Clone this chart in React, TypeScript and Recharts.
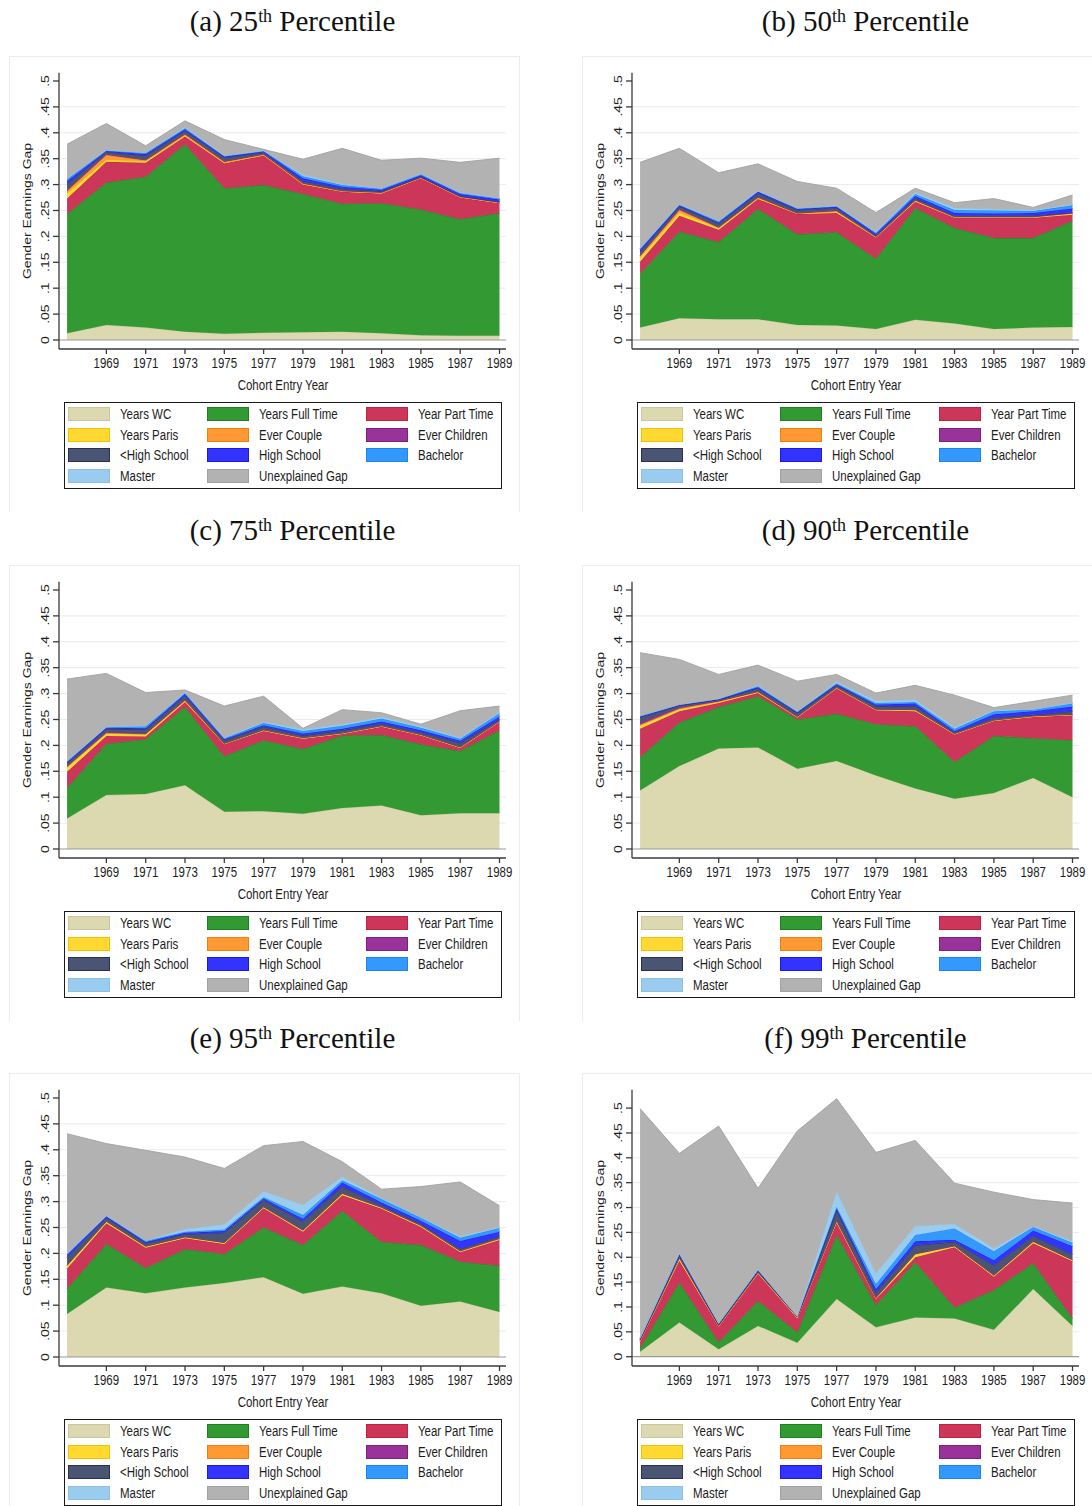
import React from 'react'
import { AreaChart, Area, XAxis, YAxis, CartesianGrid, ReferenceLine } from 'recharts'

const years = [1967, 1969, 1971, 1973, 1975, 1977, 1979, 1981, 1983, 1985, 1987, 1989]
const xTicks = [1969, 1971, 1973, 1975, 1977, 1979, 1981, 1983, 1985, 1987, 1989]
const yTicks = [0, 0.05, 0.1, 0.15, 0.2, 0.25, 0.3, 0.35, 0.4, 0.45, 0.5]
const yTickLabels = ['0', '.05', '.1', '.15', '.2', '.25', '.3', '.35', '.4', '.45', '.5']
const gridValues = [0.05, 0.1, 0.15, 0.2, 0.25, 0.3, 0.35, 0.4, 0.45]

const seriesNames = [
  'Years WC', 'Years Full Time', 'Year Part Time',
  'Years Paris', 'Ever Couple', 'Ever Children',
  '<High School', 'High School', 'Bachelor',
  'Master', 'Unexplained Gap',
]
const fills = ['#DCD9B0', '#339933', '#CC3759', '#FFD932', '#FF9933', '#993399', '#4A5574', '#3333FF', '#3399FF', '#99CCEE', '#B2B2B2']
const strokes = ['#CCC69C', '#1E801E', '#C42040', '#F2C200', '#F07F10', '#7D1F7D', '#27314F', '#1A1AE0', '#1A85F0', '#8CC0E6', '#A2A2A2']

// (a) 25th percentile
const wc25 = [0.013, 0.029, 0.024, 0.016, 0.012, 0.014, 0.015, 0.016, 0.013, 0.009, 0.008, 0.008]
const ft25 = [0.230, 0.275, 0.291, 0.362, 0.281, 0.285, 0.267, 0.247, 0.251, 0.243, 0.225, 0.237]
const pt25 = [0.030, 0.040, 0.027, 0.015, 0.048, 0.057, 0.018, 0.023, 0.019, 0.060, 0.042, 0.019]
const paris25 = [0.010, 0.004, 0.003, 0.002, 0.001, 0.001, 0.001, 0.001, 0.001, 0.001, 0.001, 0.001]
const couple25 = [0.005, 0.009, 0.002, 0.002, 0.002, 0.001, 0.001, 0.001, 0.001, 0.001, 0.001, 0.001]
const kids25 = [0.001, 0.002, 0.001, 0.001, 0.001, 0.001, 0.001, 0, 0, 0, 0, 0]
const lhs25 = [0.012, 0.004, 0.008, 0.006, 0.007, 0.003, 0.004, 0.004, 0.002, 0.001, 0.001, 0.001]
const hs25 = [0.006, 0.002, 0.003, 0.003, 0.002, 0.002, 0.005, 0.004, 0.003, 0.003, 0.004, 0.004]
const bach25 = [0.004, 0.001, 0.002, 0.002, 0.001, 0.001, 0.004, 0.003, 0.002, 0.002, 0.002, 0.002]
const mast25 = [0.001, 0.001, 0.001, 0.002, 0.001, 0.001, 0.003, 0.002, 0.001, 0.001, 0.001, 0.001]
const unexp25 = [0.066, 0.051, 0.013, 0.012, 0.031, 0.002, 0.030, 0.069, 0.054, 0.030, 0.058, 0.077]

// (b) 50th percentile
const wc50 = [0.024, 0.042, 0.040, 0.040, 0.029, 0.028, 0.021, 0.039, 0.032, 0.021, 0.024, 0.025]
const ft50 = [0.104, 0.167, 0.149, 0.213, 0.175, 0.180, 0.136, 0.216, 0.184, 0.176, 0.173, 0.205]
const pt50 = [0.023, 0.031, 0.024, 0.019, 0.039, 0.037, 0.041, 0.012, 0.020, 0.039, 0.039, 0.012]
const paris50 = [0.008, 0.006, 0.003, 0.002, 0.001, 0.002, 0.001, 0.002, 0.001, 0.001, 0.001, 0.002]
const couple50 = [0.003, 0.005, 0.001, 0.001, 0.001, 0.002, 0.001, 0.001, 0.001, 0.001, 0.001, 0.001]
const kids50 = [0.001, 0.002, 0.001, 0.001, 0, 0.001, 0, 0, 0, 0, 0, 0]
const lhs50 = [0.007, 0.005, 0.007, 0.007, 0.006, 0.005, 0.002, 0.004, 0.002, 0.002, 0.002, 0.001]
const hs50 = [0.004, 0.002, 0.002, 0.003, 0.002, 0.002, 0.003, 0.004, 0.005, 0.004, 0.005, 0.008]
const bach50 = [0.002, 0.001, 0.002, 0.001, 0.001, 0.001, 0.002, 0.004, 0.006, 0.006, 0.004, 0.006]
const mast50 = [0.001, 0.001, 0.001, 0.001, 0.001, 0.001, 0.002, 0.003, 0.004, 0.003, 0.002, 0.002]
const unexp50 = [0.166, 0.108, 0.093, 0.052, 0.051, 0.034, 0.037, 0.008, 0.010, 0.020, 0.005, 0.018]

// (c) 75th percentile
const wc75 = [0.059, 0.104, 0.106, 0.123, 0.072, 0.073, 0.068, 0.079, 0.084, 0.065, 0.069, 0.069]
const ft75 = [0.059, 0.099, 0.106, 0.151, 0.107, 0.137, 0.125, 0.140, 0.136, 0.137, 0.120, 0.160]
const pt75 = [0.031, 0.015, 0.005, 0.010, 0.023, 0.018, 0.020, 0.003, 0.016, 0.017, 0.006, 0.016]
const paris75 = [0.008, 0.005, 0.004, 0.002, 0.001, 0.001, 0.001, 0.001, 0.001, 0.001, 0.001, 0.001]
const couple75 = [0.002, 0.001, 0.001, 0.001, 0.001, 0.001, 0.001, 0.001, 0.001, 0.001, 0.001, 0.001]
const kids75 = [0.001, 0.002, 0.001, 0.001, 0, 0, 0, 0, 0, 0, 0, 0]
const lhs75 = [0.005, 0.006, 0.008, 0.008, 0.006, 0.006, 0.004, 0.005, 0.004, 0.004, 0.008, 0.003]
const hs75 = [0.003, 0.002, 0.002, 0.003, 0.002, 0.003, 0.004, 0.003, 0.004, 0.004, 0.004, 0.006]
const bach75 = [0.001, 0.001, 0.004, 0.002, 0.002, 0.004, 0.005, 0.006, 0.006, 0.005, 0.004, 0.006]
const mast75 = [0.001, 0.001, 0.001, 0.001, 0.001, 0.002, 0.003, 0.003, 0.003, 0.003, 0.002, 0.002]
const unexp75 = [0.158, 0.103, 0.064, 0.005, 0.061, 0.050, 0.002, 0.028, 0.008, 0.004, 0.052, 0.012]

// (d) 90th percentile
const wc90 = [0.113, 0.160, 0.194, 0.196, 0.155, 0.170, 0.142, 0.117, 0.097, 0.108, 0.137, 0.100]
const ft90 = [0.064, 0.084, 0.080, 0.099, 0.095, 0.091, 0.099, 0.120, 0.071, 0.110, 0.077, 0.110]
const pt90 = [0.055, 0.022, 0.008, 0.006, 0.004, 0.049, 0.027, 0.029, 0.053, 0.029, 0.041, 0.048]
const paris90 = [0.006, 0.004, 0.002, 0.002, 0.001, 0.001, 0.001, 0.002, 0.001, 0.001, 0.001, 0.001]
const couple90 = [0.002, 0.001, 0.001, 0.001, 0.001, 0.001, 0.001, 0.001, 0.001, 0.001, 0.001, 0.001]
const kids90 = [0.004, 0.003, 0.001, 0, 0, 0, 0, 0, 0, 0, 0, 0]
const lhs90 = [0.010, 0.003, 0.002, 0.006, 0.006, 0.004, 0.006, 0.007, 0.002, 0.005, 0.002, 0.006]
const hs90 = [0.002, 0.001, 0.001, 0.002, 0.002, 0.002, 0.003, 0.005, 0.003, 0.006, 0.007, 0.009]
const bach90 = [0.001, 0.001, 0.001, 0.002, 0.001, 0.002, 0.003, 0.003, 0.004, 0.006, 0.003, 0.006]
const mast90 = [0, 0, 0, 0.002, 0.001, 0.003, 0.004, 0.004, 0.003, 0.002, 0.001, 0.002]
const unexp90 = [0.122, 0.087, 0.047, 0.039, 0.058, 0.014, 0.015, 0.028, 0.062, 0.005, 0.015, 0.014]

// (e) 95th percentile
const wc95 = [0.083, 0.134, 0.123, 0.134, 0.143, 0.154, 0.122, 0.136, 0.123, 0.099, 0.107, 0.087]
const ft95 = [0.049, 0.084, 0.049, 0.074, 0.056, 0.096, 0.094, 0.146, 0.099, 0.117, 0.077, 0.089]
const pt95 = [0.039, 0.040, 0.039, 0.021, 0.019, 0.037, 0.026, 0.030, 0.064, 0.035, 0.018, 0.050]
const paris95 = [0.005, 0.003, 0.002, 0.002, 0.002, 0.002, 0.002, 0.003, 0.002, 0.002, 0.002, 0.002]
const couple95 = [0.001, 0.001, 0.001, 0.001, 0.001, 0.001, 0.001, 0.001, 0.001, 0.001, 0.001, 0.001]
const kids95 = [0, 0, 0, 0, 0, 0, 0, 0, 0, 0, 0, 0]
const lhs95 = [0.015, 0.007, 0.006, 0.005, 0.019, 0.013, 0.017, 0.013, 0.004, 0.003, 0.004, 0.004]
const hs95 = [0.005, 0.002, 0.002, 0.003, 0.003, 0.003, 0.005, 0.008, 0.005, 0.006, 0.015, 0.009]
const bach95 = [0.002, 0.001, 0.002, 0.002, 0.003, 0.003, 0.007, 0.004, 0.007, 0.006, 0.006, 0.007]
const mast95 = [0.001, 0.001, 0.001, 0.005, 0.010, 0.011, 0.020, 0.007, 0.002, 0.001, 0.003, 0.002]
const unexp95 = [0.231, 0.139, 0.174, 0.139, 0.108, 0.088, 0.122, 0.029, 0.017, 0.059, 0.105, 0.041]

// (f) 99th percentile
const wc99 = [0.010, 0.069, 0.015, 0.062, 0.028, 0.116, 0.059, 0.079, 0.077, 0.054, 0.136, 0.062]
const ft99 = [0.007, 0.080, 0.014, 0.050, 0.021, 0.129, 0.045, 0.111, 0.022, 0.080, 0.052, 0.015]
const pt99 = [0.013, 0.044, 0.031, 0.055, 0.028, 0.024, 0.012, 0.010, 0.121, 0.027, 0.040, 0.115]
const paris99 = [0.002, 0.005, 0.002, 0.002, 0.002, 0.004, 0.002, 0.006, 0.002, 0.002, 0.003, 0.002]
const couple99 = [0.001, 0.001, 0.001, 0.001, 0.001, 0.001, 0.001, 0.001, 0.001, 0.001, 0.001, 0.001]
const kids99 = [0, 0, 0, 0, 0, 0, 0, 0, 0, 0, 0, 0]
const lhs99 = [0.002, 0.005, 0.002, 0.002, 0, 0.021, 0.010, 0.017, 0.008, 0.020, 0.011, 0.011]
const hs99 = [0.001, 0.002, 0.001, 0.002, 0.001, 0.003, 0.007, 0.008, 0.004, 0.010, 0.011, 0.016]
const bach99 = [0.001, 0.001, 0.001, 0.001, 0, 0.003, 0.010, 0.013, 0.023, 0.018, 0.007, 0.007]
const mast99 = [0, 0.001, 0, 0, 0, 0.032, 0.022, 0.018, 0.009, 0.006, 0.002, 0.003]
const unexp99 = [0.462, 0.201, 0.397, 0.164, 0.373, 0.186, 0.243, 0.172, 0.082, 0.113, 0.053, 0.077]

const panels = [
  { tag: '(a) 25', series: [wc25, ft25, pt25, paris25, couple25, kids25, lhs25, hs25, bach25, mast25, unexp25], yDomain: [-0.0174, 0.516] },
  { tag: '(b) 50', series: [wc50, ft50, pt50, paris50, couple50, kids50, lhs50, hs50, bach50, mast50, unexp50], yDomain: [-0.0174, 0.516] },
  { tag: '(c) 75', series: [wc75, ft75, pt75, paris75, couple75, kids75, lhs75, hs75, bach75, mast75, unexp75], yDomain: [-0.0174, 0.516] },
  { tag: '(d) 90', series: [wc90, ft90, pt90, paris90, couple90, kids90, lhs90, hs90, bach90, mast90, unexp90], yDomain: [-0.0174, 0.516] },
  { tag: '(e) 95', series: [wc95, ft95, pt95, paris95, couple95, kids95, lhs95, hs95, bach95, mast95, unexp95], yDomain: [-0.0174, 0.516] },
  { tag: '(f) 99', series: [wc99, ft99, pt99, paris99, couple99, kids99, lhs99, hs99, bach99, mast99, unexp99], yDomain: [-0.0187, 0.537] },
]

const colLeft = [0, 573]
const rowTop = [0, 509, 1017]

// the graphs were squeezed horizontally when placed in the page
const SQ = 0.82
const SANS = '"Liberation Sans", Arial, Helvetica, sans-serif'
const SERIF = '"Liberation Serif", "Times New Roman", Times, serif'
const INK = '#1c1c1c'

function Txt({ x, y, children, anchor = 'middle', rotate = false }: any) {
  const tx = anchor === 'start' ? '0' : '-50%'
  return (
    <div style={{ position: 'absolute', left: x, top: y, width: 0, height: 0 }}>
      <span
        style={{
          position: 'absolute', left: 0, top: 0, whiteSpace: 'nowrap',
          fontFamily: SANS, fontSize: 14, lineHeight: 1, color: INK,
          transformOrigin: '0 0',
          transform: `scale(${SQ},1)${rotate ? ' rotate(-90deg)' : ''} translate(${tx},-50%)`,
        }}
      >
        {children}
      </span>
    </div>
  )
}

function XTick(props: any) {
  const { x, y, payload } = props
  return (
    <text transform={`translate(${x},${y + 12}) scale(${SQ},1)`} textAnchor="middle"
      fontSize={14} fontFamily={SANS} fill={INK}>
      {payload.value}
    </text>
  )
}

function YTick(props: any) {
  const { y, payload } = props
  const label = yTickLabels[yTicks.indexOf(payload.value)] ?? ''
  return (
    <text transform={`translate(40.3,${y}) scale(${SQ},1) rotate(-90)`} textAnchor="middle"
      fontSize={14} fontFamily={SANS} fill={INK}>
      {label}
    </text>
  )
}

function LegendBox() {
  const rowY = [11.8, 32.8, 52.8, 73.8]
  const swatchX = [3.7, 142.8, 301.6]
  const textX = [55.9, 194.9, 353.7]
  return (
    <div style={{ position: 'absolute', left: 63.6, top: 401.7, width: 438.7, height: 87.6,
      border: '1.5px solid #1a1a1a', boxSizing: 'border-box', background: '#fff' }}>
      {seriesNames.map((name, i) => {
        const col = i % 3
        const row = Math.floor(i / 3)
        return (
          <React.Fragment key={name}>
            <div style={{ position: 'absolute', left: swatchX[col], top: rowY[row] - 7, width: 41.7, height: 14,
              background: fills[i], border: `1px solid ${strokes[i]}`, boxSizing: 'border-box' }} />
            <Txt x={textX[col]} y={rowY[row]} anchor="start">{name}</Txt>
          </React.Fragment>
        )
      })}
    </div>
  )
}

function Panel({ panel, left, top }: any) {
  const rows = years.map((year, i) => {
    const row: any = { year }
    panel.series.forEach((s: number[], k: number) => { row['k' + k] = s[i] })
    return row
  })
  return (
    <div style={{ position: 'absolute', left, top, width: 573, height: 509 }}>
      <div style={{ position: 'absolute', left: 0, top: 7, width: 585, textAlign: 'center',
        fontFamily: SERIF, fontSize: 29, lineHeight: '29px', color: '#111', whiteSpace: 'nowrap' }}>
        {panel.tag}
        <sup style={{ fontSize: '0.62em', verticalAlign: 'baseline', position: 'relative', top: '-0.5em' }}>th</sup>
        {' Percentile'}
      </div>
      <div style={{ position: 'absolute', left: 9, top: 56, width: 511, height: 456,
        borderTop: '1px solid #ececec', borderLeft: '1px solid #ececec', borderRight: '1px solid #ececec',
        boxSizing: 'border-box' }} />
      <div style={{ position: 'absolute', left: 9, top: 56 }}>
        <AreaChart width={511} height={344} data={rows} margin={{ top: 16.7, right: 14, left: 0, bottom: 0 }}>
          <CartesianGrid vertical={false} horizontalValues={gridValues} stroke="#E4EDEF" strokeWidth={1} />
          <XAxis
            type="number"
            dataKey="year"
            domain={[1966.59, 1989.33]}
            allowDataOverflow
            ticks={xTicks}
            interval={0}
            height={51}
            tickSize={5}
            stroke="#3a3a3a"
            strokeWidth={1.3}
            tick={<XTick />}
          />
          <YAxis
            type="number"
            domain={panel.yDomain}
            allowDataOverflow
            ticks={yTicks}
            interval={0}
            width={50}
            tickSize={6}
            stroke="#3a3a3a"
            strokeWidth={1.3}
            tick={<YTick />}
          />
          {seriesNames.map((name, k) => (
            <Area
              key={name}
              type="linear"
              dataKey={'k' + k}
              name={name}
              stackId="1"
              fill={fills[k]}
              fillOpacity={1}
              stroke={strokes[k]}
              strokeWidth={0.9}
              dot={false}
              activeDot={false}
              isAnimationActive={false}
            />
          ))}
          <ReferenceLine y={0} stroke="#9a9a9a" strokeWidth={1.2} />
        </AreaChart>
      </div>
      <Txt x={27} y={211} rotate>Gender Earnings Gap</Txt>
      <Txt x={282.5} y={385}>Cohort Entry Year</Txt>
      <LegendBox />
    </div>
  )
}

export default function App() {
  return (
    <div style={{ position: 'absolute', left: 0, top: 0, width: 1092, height: 1506, background: '#fff', overflow: 'hidden' }}>
      {panels.map((p, i) => (
        <Panel key={p.tag} panel={p} left={colLeft[i % 2]} top={rowTop[Math.floor(i / 2)]} />
      ))}
    </div>
  )
}
